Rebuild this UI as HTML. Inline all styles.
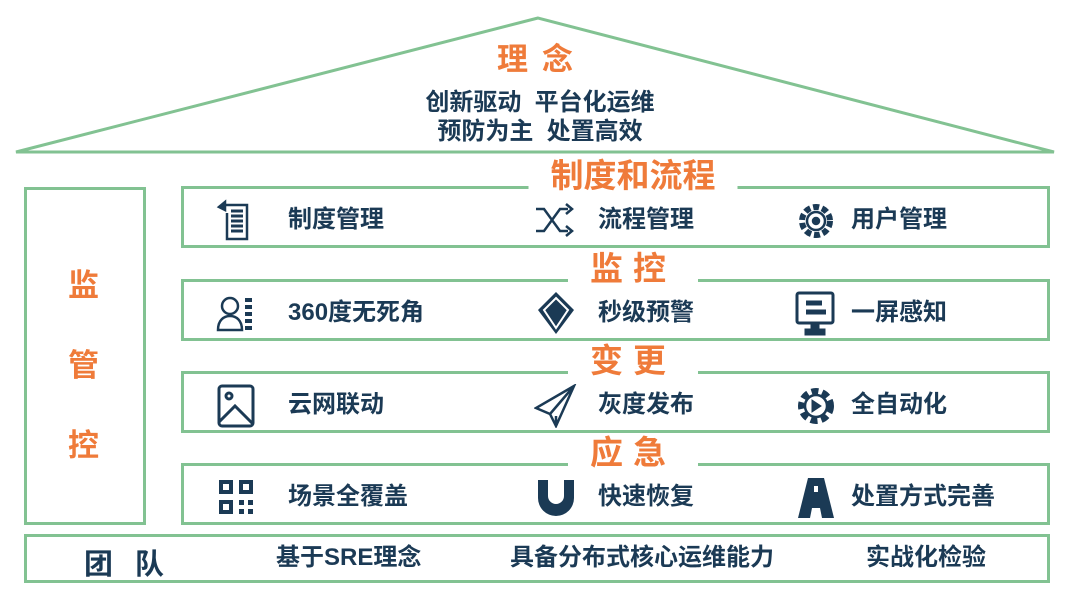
<!DOCTYPE html>
<html><head><meta charset="utf-8"><style>
body{margin:0;width:1080px;height:608px;background:#fff;position:relative;overflow:hidden;font-family:"Liberation Sans","Noto Sans CJK SC",sans-serif;font-weight:bold;color:#1b3a55}
.a{position:absolute;white-space:nowrap}
.box{position:absolute;border:3px solid #82c292;box-sizing:border-box}
.or{color:#ef7b3a}
.t{font-size:24px;line-height:28px}
.h{font-size:33px;line-height:36px;background:#fff;padding:0 22px;transform:translateX(-50%)}
svg.i{position:absolute}
</style></head><body>
<svg class="a" style="left:0;top:0" width="1080" height="160"><polygon points="538,18 16,152 1054,152" fill="none" stroke="#82c292" stroke-width="3"/></svg>
<div class="a or" style="left:497px;top:34px;font-size:31px;letter-spacing:14px">理念</div>
<div class="a" style="left:0;width:1080px;text-align:center;top:88px;font-size:24px;line-height:29px">创新驱动&nbsp;&nbsp;平台化运维<br>预防为主&nbsp;&nbsp;处置高效</div>

<div class="box" style="left:24px;top:187px;width:122px;height:338px"></div>
<div class="a or" style="left:68px;top:260px;font-size:31px">监</div>
<div class="a or" style="left:68px;top:340px;font-size:31px">管</div>
<div class="a or" style="left:68px;top:420px;font-size:31px">控</div>

<div class="box" style="left:181px;top:186px;width:869px;height:62px"></div>
<div class="box" style="left:181px;top:279px;width:869px;height:62px"></div>
<div class="box" style="left:181px;top:371px;width:869px;height:62px"></div>
<div class="box" style="left:181px;top:463px;width:869px;height:62px"></div>
<div class="a or h" style="left:633px;top:158px">制度和流程</div>
<div class="a or h" style="left:633px;top:251px;letter-spacing:10px">监控</div>
<div class="a or h" style="left:633px;top:343px;letter-spacing:10px">变更</div>
<div class="a or h" style="left:633px;top:435px;letter-spacing:10px">应急</div>

<div class="box" style="left:24px;top:534px;width:1026px;height:49px"></div>
<div class="a" style="left:84px;top:541px;font-size:29px;letter-spacing:22px">团队</div>
<div class="a t" style="left:276px;top:544px">基于SRE理念</div>
<div class="a t" style="left:510px;top:544px">具备分布式核心运维能力</div>
<div class="a t" style="left:866px;top:544px">实战化检验</div>

<div class="a t" style="left:288px;top:206px">制度管理</div>
<div class="a t" style="left:598px;top:206px">流程管理</div>
<div class="a t" style="left:851px;top:206px">用户管理</div>
<div class="a t" style="left:288px;top:299px">360度无死角</div>
<div class="a t" style="left:598px;top:299px">秒级预警</div>
<div class="a t" style="left:851px;top:299px">一屏感知</div>
<div class="a t" style="left:288px;top:391px">云网联动</div>
<div class="a t" style="left:598px;top:391px">灰度发布</div>
<div class="a t" style="left:851px;top:391px">全自动化</div>
<div class="a t" style="left:288px;top:483px">场景全覆盖</div>
<div class="a t" style="left:598px;top:483px">快速恢复</div>
<div class="a t" style="left:851px;top:483px">处置方式完善</div>

<svg class="i" style="left:215px;top:199px" width="44" height="44" fill="none" stroke="#1b3a55" stroke-width="2.5"><path d="M10 6h22v34H12V14"/><path d="M4 8l6-5v8z" fill="#1b3a55"/><path d="M16 12h12M16 17h12M16 22h12M16 27h12M16 32h12" stroke-width="3"/></svg>
<svg class="i" style="left:534px;top:199px" width="44" height="44" fill="none" stroke="#1b3a55" stroke-width="2.5"><path d="M2 10h8l16 22h8M2 32h8l16-22h8M32 5l6 5-6 5M32 27l6 5-6 5"/></svg>
<svg class="i" style="left:794px;top:199px" width="44" height="44" fill="none" stroke="#1b3a55" stroke-width="2.5"><circle cx="22" cy="22" r="14" stroke-dasharray="6 3" stroke-width="6"/><circle cx="22" cy="22" r="9"/><circle cx="22" cy="22" r="3" fill="#1b3a55"/></svg>
<svg class="i" style="left:215px;top:292px" width="44" height="44" fill="none" stroke="#1b3a55" stroke-width="2.5"><circle cx="15" cy="14" r="8"/><path d="M3 38c0-10 6-14 12-14s12 4 12 14z"/><path d="M30 8h7M30 15h7M30 22h7M30 29h7M30 36h7" stroke-width="4"/></svg>
<svg class="i" style="left:534px;top:290px" width="44" height="46"><path d="M22 2L40 20 22 44 4 20z" fill="#1b3a55"/><path d="M22 8L34 20 22 38 10 20z" fill="none" stroke="#fff" stroke-width="2"/></svg>
<svg class="i" style="left:794px;top:290px" width="44" height="46" fill="none" stroke="#1b3a55" stroke-width="3"><rect x="3" y="3" width="36" height="30" rx="2"/><path d="M12 13h16M12 22h20" stroke-width="5"/><path d="M18 34v6h-6v4h18v-4h-6v-6" fill="#1b3a55"/></svg>
<svg class="i" style="left:215px;top:384px" width="44" height="44" fill="none" stroke="#1b3a55" stroke-width="3"><rect x="4" y="2" width="34" height="40" rx="3"/><circle cx="14" cy="12" r="3"/><path d="M4 38l16-16 18 18"/></svg>
<svg class="i" style="left:534px;top:384px" width="44" height="44" fill="none" stroke="#1b3a55" stroke-width="2.5"><path d="M40 2L2 24l14 6 6 12zM16 30L40 2M22 42v-10"/></svg>
<svg class="i" style="left:794px;top:384px" width="44" height="44" fill="none" stroke="#1b3a55"><circle cx="22" cy="22" r="15" stroke-dasharray="7 4" stroke-width="6"/><circle cx="22" cy="22" r="11" stroke-width="2.5"/><path d="M18 16l9 6-9 6z" fill="#1b3a55"/></svg>
<svg class="i" style="left:215px;top:476px" width="44" height="44" fill="#1b3a55"><path fill-rule="evenodd" d="M4 4h14v14H4zM8 8v6h6V8zM24 4h14v14H24zM28 8v6h6V8zM4 24h14v14H4zM8 28v6h6v-6zM24 24h5v5h-5zM33 24h5v5h-5zM24 33h5v5h-5zM33 33h5v5h-5z"/></svg>
<svg class="i" style="left:534px;top:476px" width="44" height="44" fill="#1b3a55"><path d="M4 4h10v16a8 8 0 0016 0V4h10v18a18 18 0 01-36 0z"/></svg>
<svg class="i" style="left:794px;top:476px" width="44" height="44" fill="#1b3a55"><path d="M14 2h16l10 40H28l-2-10h-8l-2 10H4z"/><path d="M20 10h4v6h-4z" fill="#fff"/></svg>
</body></html>
